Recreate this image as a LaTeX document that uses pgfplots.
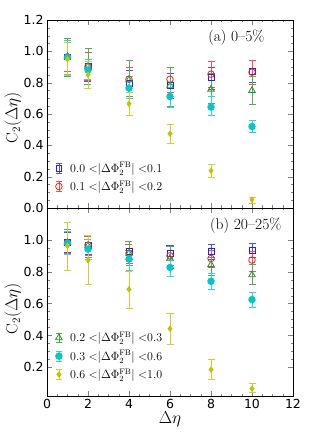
\documentclass[border=0pt]{standalone}
\usepackage{pgfplots}
\pgfplotsset{compat=1.18}
\usepackage{fontspec}
\newfontfamily\dejavu{DejaVu Sans}
\definecolor{cblue}{RGB}{30,30,255}
\definecolor{cred}{RGB}{255,30,30}
\definecolor{cgreen}{RGB}{40,150,40}
\definecolor{ccyan}{RGB}{0,200,200}
\definecolor{cyel}{RGB}{195,195,0}
\pgfplotsset{
  myax/.style={width=246pt,height=188pt,scale only axis,
    xmin=0,xmax=12,ymax=1.2,
    xtick={0,2,...,12}, minor x tick num=3, minor y tick num=3,
    tick align=inside, major tick length=5pt, minor tick length=2.5pt,
    ticklabel style={font=\dejavu\fontsize{12.5}{14}\selectfont},
    /pgf/number format/assume math mode=true,
    legend cell align=left,
    legend style={draw=none,fill=none,font=\fontsize{11.5}{13}\selectfont,row sep=3pt,
      /tikz/every odd column/.append style={column sep=6pt}},
  },
  ser/.style={only marks, color=#1, mark size=3.3pt, thick,
    mark options={solid, draw=#1, fill=#1},
    error bars/y dir=both, error bars/y explicit,
    error bars/error bar style={color=#1!80!white, thick},
    error bars/error mark options={rotate=90,mark size=3.5pt,color=#1!80!white,thick},
    legend image code/.code={
      \draw[color=#1!80!white, thick] (0.3cm,-0.17cm)--(0.3cm,0.17cm)
        (0.2cm,-0.17cm)--(0.4cm,-0.17cm) (0.2cm,0.17cm)--(0.4cm,0.17cm);
      \draw[mark repeat=2,mark phase=2,##1] plot coordinates {(0cm,0cm)(0.3cm,0cm)(0.6cm,0cm)};}},
  open/.style={mark options={solid, draw=#1, fill=white}},
}
\begin{document}
\begin{tikzpicture}
\begin{axis}[myax, name=top, ymin=0,
  ytick={0,0.2,0.4,0.6,0.8,1.0,1.2}, yticklabels={0.0,0.2,0.4,0.6,0.8,1.0,1.2},
  xticklabels={},
  legend style={at={(0.022,0.062)},anchor=south west}]
\addplot[ser=cblue, open=cblue, mark=square, mark size=2.9pt] table[x=x,y=y,y error plus=ep,y error minus=em]{
x y ep em
1 0.965 0.095 0.095
2 0.903 0.087 0.093
4 0.797 0.083 0.087
6 0.780 0.080 0.080
8 0.833 0.067 0.073
10 0.871 0.074 0.071
};
\addplot[ser=cred, open=cred, mark=o] table[x=x,y=y,y error plus=ep,y error minus=em]{
x y ep em
1 0.965 0.095 0.095
2 0.903 0.090 0.090
4 0.822 0.078 0.082
6 0.822 0.078 0.082
8 0.854 0.081 0.084
10 0.867 0.078 0.077
};
\addplot[ser=cgreen, open=cgreen, mark=triangle, mark size=3.8pt, forget plot] table[x=x,y=y,y error plus=ep,y error minus=em]{
x y ep em
1 0.965 0.115 0.125
2 0.903 0.117 0.113
4 0.818 0.122 0.108
6 0.780 0.120 0.130
8 0.758 0.102 0.093
10 0.750 0.090 0.090
};
\addplot[ser=ccyan, mark=*, forget plot] table[x=x,y=y,y error plus=ep,y error minus=em]{
x y ep em
1 0.962 0.108 0.107
2 0.881 0.070 0.060
4 0.765 0.075 0.065
6 0.712 0.074 0.067
8 0.644 0.066 0.054
10 0.520 0.040 0.040
};
\addplot[ser=cyel, mark=diamond*, mark size=2.7pt, forget plot] table[x=x,y=y,y error plus=ep,y error minus=em]{
x y ep em
1 0.950 0.105 0.105
2 0.850 0.085 0.085
4 0.665 0.075 0.075
6 0.474 0.061 0.064
8 0.238 0.038 0.040
10 0.053 0.017 0.021
};
\legend{$0.0\;{<}|\Delta\Phi_2^{\rm FB}|\;{<}0.1$,$0.1\;{<}|\Delta\Phi_2^{\rm FB}|\;{<}0.2$}
\node[anchor=east,font=\fontsize{15.5}{18}\selectfont] at (rel axis cs:0.898,0.905) {(a) 0--5\%};
\end{axis}
\begin{axis}[myax, name=bot, at={(top.south west)}, anchor=north west, ymin=0.02,
  ytick={0.2,0.4,0.6,0.8,1.0}, yticklabels={0.2,0.4,0.6,0.8,1.0},
  xticklabels={0,2,4,6,8,10,12},
  xlabel={$\Delta\eta$}, xlabel style={font=\fontsize{16}{19}\selectfont, yshift=4pt},
  legend style={at={(0.022,0.062)},anchor=south west}]
\addplot[ser=cblue, open=cblue, mark=square, mark size=2.9pt, forget plot] table[x=x,y=y,y error plus=ep,y error minus=em]{
x y ep em
1 0.983 0.063 0.063
2 0.967 0.058 0.057
4 0.927 0.046 0.047
6 0.915 0.048 0.045
8 0.927 0.046 0.047
10 0.935 0.045 0.045
};
\addplot[ser=cred, open=cred, mark=o, forget plot] table[x=x,y=y,y error plus=ep,y error minus=em]{
x y ep em
1 0.983 0.067 0.068
2 0.967 0.053 0.067
4 0.915 0.058 0.065
6 0.900 0.056 0.060
8 0.883 0.052 0.053
10 0.873 0.054 0.073
};
\addplot[ser=cgreen, open=cgreen, mark=triangle, mark size=3.8pt] table[x=x,y=y,y error plus=ep,y error minus=em]{
x y ep em
1 0.983 0.084 0.073
2 0.963 0.067 0.073
4 0.915 0.075 0.075
6 0.885 0.071 0.065
8 0.844 0.046 0.069
10 0.780 0.064 0.060
};
\addplot[ser=ccyan, mark=*] table[x=x,y=y,y error plus=ep,y error minus=em]{
x y ep em
1 0.979 0.077 0.073
2 0.942 0.062 0.062
4 0.879 0.056 0.073
6 0.827 0.043 0.057
8 0.740 0.050 0.054
10 0.625 0.045 0.048
};
\addplot[ser=cyel, mark=diamond*, mark size=2.7pt] table[x=x,y=y,y error plus=ep,y error minus=em]{
x y ep em
1 0.963 0.145 0.153
2 0.873 0.157 0.150
4 0.690 0.110 0.123
6 0.442 0.098 0.100
8 0.185 0.063 0.062
10 0.067 0.033 0.027
};
\legend{$0.2\;{<}|\Delta\Phi_2^{\rm FB}|\;{<}0.3$,$0.3\;{<}|\Delta\Phi_2^{\rm FB}|\;{<}0.6$,$0.6\;{<}|\Delta\Phi_2^{\rm FB}|\;{<}1.0$}
\node[anchor=east,font=\fontsize{15.5}{18}\selectfont] at (rel axis cs:0.967,0.904) {(b) 20--25\%};
\end{axis}
\node[rotate=90,font=\fontsize{16}{19}\selectfont] at ([xshift=-34pt,yshift=-4pt]top.west) {$\mathrm{C}_2(\Delta\eta)$};
\node[rotate=90,font=\fontsize{16}{19}\selectfont] at ([xshift=-34pt,yshift=-7pt]bot.west) {$\mathrm{C}_2(\Delta\eta)$};
\path[use as bounding box] ([xshift=-47pt,yshift=20pt]top.north west) rectangle ++(309pt,-441pt);
\end{tikzpicture}
\end{document}
